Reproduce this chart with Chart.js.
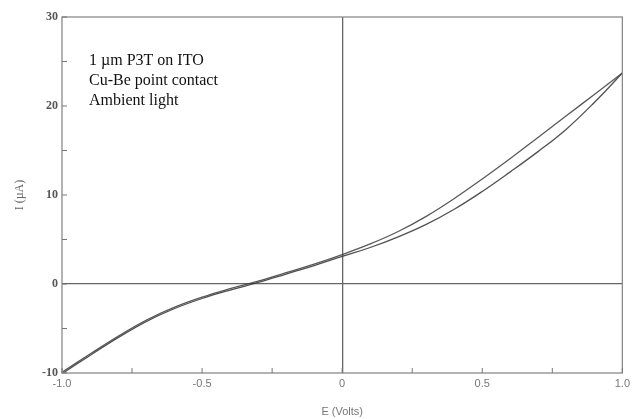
<!DOCTYPE html>
<html>
<head>
<meta charset="utf-8">
<script src="https://cdn.jsdelivr.net/npm/chart.js@4"></script>
<style>
  html, body { margin: 0; padding: 0; background: #fff; }
  #wrap { width: 634px; height: 419px; }
</style>
</head>
<body>
<div id="wrap"><canvas id="iv"></canvas></div>
<script>
// I-V sweep, 1 um P3T on ITO
const voltsLeft = [-1.0, -0.9, -0.8, -0.7, -0.6, -0.5, -0.4, -0.3, -0.2, -0.1];
const currentLeft = [-10, -7.95, -5.95, -4.15, -2.7, -1.55, -0.6, 0.25, 1.2, 2.15];
const voltsRight = [0, 0.1, 0.2, 0.3, 0.4, 0.5, 0.6, 0.7, 0.8, 0.9, 1.0];
const currentUpper = [3.3, 4.5, 5.9, 7.6, 9.6, 11.8, 14.1, 16.5, 18.9, 21.3, 23.7];
const currentLower = [3.1, 4.1, 5.3, 6.7, 8.4, 10.4, 12.6, 14.9, 17.4, 20.4, 23.7];
const notes = ['1 \u00b5m P3T on ITO', 'Cu-Be point contact', 'Ambient light'];

function toPoints(xs, ys) { return xs.map((x, i) => ({ x, y: ys[i] })); }
const upperPts = toPoints(voltsLeft, currentLeft.map(v => v + 0.08)).concat(toPoints(voltsRight, currentUpper));
const lowerPts = toPoints(voltsLeft, currentLeft.map(v => v - 0.08)).concat(toPoints(voltsRight, currentLower));

// inward ticks, frame, and the text note
const framePlugin = {
  id: 'frame',
  afterDatasetsDraw(chart) {
    const { ctx, chartArea: a, scales } = chart;
    ctx.save();
    ctx.strokeStyle = '#8a8a8a'; ctx.lineWidth = 1.3;
    ctx.strokeRect(a.left, a.top, a.right - a.left, a.bottom - a.top);
    ctx.strokeStyle = '#777'; ctx.lineWidth = 1;
    for (const t of scales.x.ticks) {
      const px = scales.x.getPixelForValue(t.value);
      ctx.beginPath(); ctx.moveTo(px, a.bottom); ctx.lineTo(px, a.bottom - 5); ctx.stroke();
    }
    for (const t of scales.y.ticks) {
      const py = scales.y.getPixelForValue(t.value);
      ctx.beginPath(); ctx.moveTo(a.left, py); ctx.lineTo(a.left + 5, py); ctx.stroke();
    }
    ctx.fillStyle = '#111';
    ctx.font = '16px "Liberation Serif", serif';
    ctx.textBaseline = 'middle';
    notes.forEach((s, i) => ctx.fillText(s, a.left + 27, 61 + i * 20));
    ctx.restore();
  }
};

new Chart(document.getElementById('iv'), {
  type: 'scatter',
  data: {
    datasets: [
      { data: upperPts, showLine: true, borderColor: 'rgba(60,60,60,0.85)', borderWidth: 1.3, pointRadius: 0, tension: 0.4 },
      { data: lowerPts, showLine: true, borderColor: 'rgba(50,50,50,0.85)', borderWidth: 1.3, pointRadius: 0, tension: 0.4 }
    ]
  },
  options: {
    responsive: true,
    maintainAspectRatio: false,
    animation: false,
    layout: { padding: { top: 17, right: 10, left: 0, bottom: 0 } },
    plugins: { legend: { display: false }, tooltip: { enabled: false } },
    scales: {
      x: {
        type: 'linear', min: -1, max: 1,
        afterFit: s => { s.height = 46; },
        border: { display: false },
        grid: { drawTicks: false, color: c => c.tick && c.tick.value === 0 ? '#666' : 'transparent', lineWidth: 1.3 },
        ticks: {
          stepSize: 0.25, padding: 4, color: '#777',
          font: { family: '"Liberation Sans", sans-serif', size: 11 },
          callback: v => Math.abs(v * 2 - Math.round(v * 2)) > 1e-6 ? '' : (v === 0 ? '0' : v.toFixed(1))
        },
        title: { display: true, text: 'E (Volts)', color: '#777', padding: { top: 2, bottom: 0 },
          font: { family: '"Liberation Sans", sans-serif', size: 11 } }
      },
      y: {
        min: -10, max: 30,
        afterFit: s => { s.width = 62; },
        border: { display: false },
        grid: { drawTicks: false, color: c => c.tick && c.tick.value === 0 ? '#666' : 'transparent', lineWidth: 1.3 },
        ticks: {
          stepSize: 5, padding: 4, color: '#555',
          font: { family: '"Liberation Serif", serif', size: 12, weight: 'bold' },
          callback: v => v % 10 === 0 ? String(v) : ''
        },
        title: { display: true, text: 'I (\u00b5A)', color: '#666', padding: { top: 13, bottom: 4 },
          font: { family: '"Liberation Serif", serif', size: 12 } }
      }
    }
  },
  plugins: [framePlugin]
});
</script>
</body>
</html>
